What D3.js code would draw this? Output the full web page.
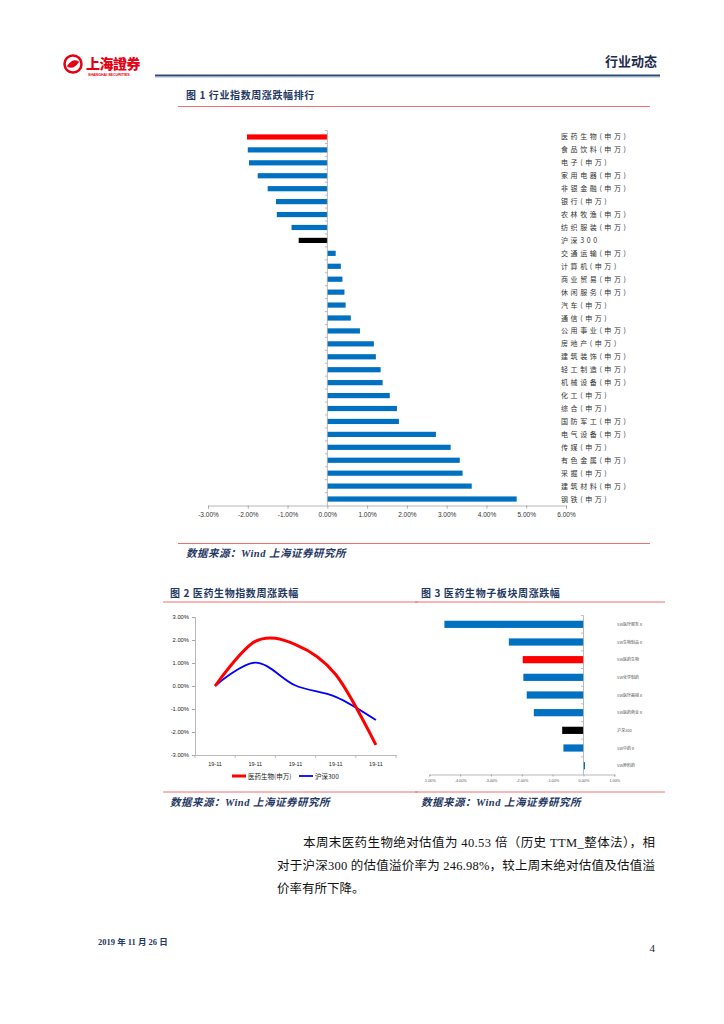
<!DOCTYPE html>
<html><head><meta charset="utf-8">
<script src="https://cdn.jsdelivr.net/npm/d3@7"></script>
<style>body{margin:0;background:#fff}svg{display:block}</style>
</head><body>
<script>
// ---------- DATA ----------
const industries = ["医药生物(申万)","食品饮料(申万)","电子(申万)","家用电器(申万)","非银金融(申万)","银行(申万)","农林牧渔(申万)","纺织服装(申万)","沪深300","交通运输(申万)","计算机(申万)","商业贸易(申万)","休闲服务(申万)","汽车(申万)","通信(申万)","公用事业(申万)","房地产(申万)","建筑装饰(申万)","轻工制造(申万)","机械设备(申万)","化工(申万)","综合(申万)","国防军工(申万)","电气设备(申万)","传媒(申万)","有色金属(申万)","采掘(申万)","建筑材料(申万)","钢铁(申万)"];
const industryChange = [-2.02,-2.00,-1.97,-1.75,-1.50,-1.29,-1.27,-0.90,-0.72,0.21,0.34,0.38,0.43,0.46,0.59,0.82,1.17,1.22,1.34,1.39,1.57,1.75,1.80,2.73,3.10,3.33,3.40,3.63,4.76];
const xTicks1 = [-3,-2,-1,0,1,2,3,4,5,6];

const dates2 = ["19-11a","19-11b","19-11c","19-11d","19-11e"];
const dateLabels2 = ["19-11","19-11","19-11","19-11","19-11"];
const pharmaLine = [0, 1.94, 1.80, 0.50, -2.56];
const hs300Line = [0, 1.02, 0.02, -0.47, -1.48];
const yTicks2 = [3,2,1,0,-1,-2,-3];
const seriesNames2 = ["医药生物(申万)","沪深300"];

const subSectors = ["SW医疗服务Ⅱ","SW生物制品Ⅱ","SW医药生物","SW化学制药","SW医疗器械Ⅱ","SW医药商业Ⅱ","沪深300","SW中药Ⅱ","SW原料药"];
const subChange = [-4.51,-2.42,-1.97,-1.95,-1.84,-1.61,-0.69,-0.65,0.05];
const xTicks3 = [-5,-4,-3,-2,-1,0,1];

// ---------- SETUP ----------
const W=724,H=1024;
const svg=d3.select("body").append("svg").attr("width",W).attr("height",H);
const NAVY="#1F3864", RED="#FF0000", BLUE="#0070C0", GRID="#A6A6A6", LINE_RED="#F07070";
const CJK="'Noto Sans CJK SC', sans-serif";
const SERIF="'Liberation Serif','Noto Sans CJK SC', serif";
const fmt=d=>d.toFixed(2)+"%";
function barColor(name){ if(name==="沪深300") return "#000"; if(name.indexOf("医药生物")>=0) return RED; return BLUE; }

// ---------- HEADER ----------
const logo=svg.append("g");
logo.append("circle").attr("cx",73).attr("cy",64).attr("r",8.5).attr("fill","none").attr("stroke","#E60012").attr("stroke-width",2.5);
logo.append("path").attr("d","M67,66 Q73,57 80,62 Q74,61 71,67 Z").attr("fill","#E60012");
logo.append("path").attr("d","M79,62 Q73,71 66,66 Q72,67 75,61 Z").attr("fill","#E60012");
logo.append("text").attr("x",86).attr("y",69).attr("font-family",CJK).attr("font-weight",900).attr("font-size",14).attr("fill","#E60012").attr("letter-spacing",-0.5).text("上海證券");
logo.append("text").attr("x",88).attr("y",76).attr("font-family","Arial, sans-serif").attr("font-weight",700).attr("font-size",3.6).attr("fill","#E60012").text("SHANGHAI SECURITIES");
svg.append("line").attr("x1",155).attr("x2",660).attr("y1",75.5).attr("y2",75.5).attr("stroke","#2E4A7A").attr("stroke-width",2.2);
svg.append("line").attr("x1",155).attr("x2",660).attr("y1",77.3).attr("y2",77.3).attr("stroke","#9DB0CC").attr("stroke-width",0.6);
svg.append("text").attr("x",657).attr("y",66).attr("text-anchor","end").attr("font-family",CJK).attr("font-weight",700).attr("font-size",13).attr("fill","#1F2D4D").text("行业动态");

function title(x,y,t){ svg.append("text").attr("x",x).attr("y",y).attr("font-family",CJK).attr("font-weight",700).attr("font-size",10).attr("letter-spacing",0.6).attr("fill",NAVY).text(t); }
function rule(x1,x2,y){ svg.append("line").attr("x1",x1).attr("x2",x2).attr("y1",y).attr("y2",y).attr("stroke",LINE_RED).attr("stroke-width",1); }
function source(x,y){ svg.append("text").attr("x",x).attr("y",y).attr("font-family","'Liberation Serif','Noto Sans CJK SC',serif").attr("font-style","italic").attr("font-weight",700).attr("font-size",10.5).attr("letter-spacing",0.5).attr("fill",NAVY).text("数据来源：Wind  上海证券研究所"); }

// ---------- CHART 1 ----------
title(186,99,"图 1 行业指数周涨跌幅排行");
rule(178,650,106.5);
const x1=d3.scaleLinear().domain([-3,6]).range([208,566]);
const y1=d3.scaleBand().domain(industries).range([130.5,505.5]).paddingInner(0.6).paddingOuter(0.3);
const g1=svg.append("g");
g1.selectAll("rect").data(industries).join("rect")
  .attr("x",(d,i)=>x1(Math.min(0,industryChange[i])))
  .attr("width",(d,i)=>Math.abs(x1(industryChange[i])-x1(0)))
  .attr("y",d=>y1(d)+y1.bandwidth()/2-2.6).attr("height",5.2)
  .attr("fill",d=>barColor(d));
const yb=d3.scaleLinear().domain([0,industries.length]).range([130.5,505.5]);
g1.append("line").attr("x1",x1(0)).attr("x2",x1(0)).attr("y1",130.5).attr("y2",505.5).attr("stroke",GRID).attr("stroke-width",0.8);
g1.selectAll(".vt").data(d3.range(industries.length)).join("line").attr("class","vt")
  .attr("x1",x1(0)-2.5).attr("x2",x1(0)).attr("y1",d=>yb(d)).attr("y2",d=>yb(d)).attr("stroke",GRID).attr("stroke-width",0.7);
const ax1=g1.append("g").attr("transform","translate(0,505.5)")
  .call(d3.axisBottom(x1).tickValues(xTicks1).tickFormat(fmt).tickSize(3).tickPadding(4));
ax1.select(".domain").attr("stroke",GRID).attr("stroke-width",0.8);
ax1.selectAll(".tick line").attr("stroke",GRID);
ax1.selectAll("text").attr("font-family","Arial, 'Liberation Sans', sans-serif").attr("font-size",6.5).attr("fill","#333");
g1.selectAll(".lab").data(industries).join("text").attr("class","lab")
  .attr("x",561).attr("y",d=>y1(d)+y1.bandwidth()/2+2.5)
  .attr("font-family",CJK).attr("font-size",7).attr("letter-spacing",2.6).attr("fill","#333").text(d=>d);
rule(178,650,543.5);
source(186,557);

// ---------- CHART 2 ----------
title(170,597,"图 2 医药生物指数周涨跌幅");
rule(163,418,602);
const x2=d3.scaleBand().domain(dates2).range([195,396]);
const y2=d3.scaleLinear().domain([-3,3]).range([755,617]);
const g2=svg.append("g");
const ay2=g2.append("g").attr("transform","translate(195,0)").call(d3.axisLeft(y2).tickValues(yTicks2).tickFormat(fmt).tickSize(3).tickPadding(3));
ay2.select(".domain").attr("stroke",GRID).attr("stroke-width",0.8);
ay2.selectAll(".tick line").attr("stroke",GRID);
ay2.selectAll("text").attr("font-family","Arial, 'Liberation Sans', sans-serif").attr("font-size",5.8).attr("fill","#222");
const ax2=g2.append("g").attr("transform","translate(0,755)").call(d3.axisBottom(x2).tickFormat((d,i)=>dateLabels2[i]).tickSize(0).tickPadding(7));
ax2.select(".domain").attr("stroke",GRID).attr("stroke-width",0.8);
ax2.selectAll("text").attr("font-family","Arial, 'Liberation Sans', sans-serif").attr("font-size",5.5).attr("fill","#222");
g2.selectAll(".bt").data(d3.range(dates2.length+1)).join("line").attr("class","bt")
  .attr("x1",d=>195+d*x2.step()).attr("x2",d=>195+d*x2.step()).attr("y1",755).attr("y2",758).attr("stroke",GRID).attr("stroke-width",0.7);
const line2=d3.line().x((d,i)=>x2(dates2[i])+x2.bandwidth()/2).y(d=>y2(d)).curve(d3.curveCardinal.tension(0));
g2.append("path").datum(hs300Line).attr("d",line2).attr("fill","none").attr("stroke","#0000FF").attr("stroke-width",1.8);
g2.append("path").datum(pharmaLine).attr("d",line2).attr("fill","none").attr("stroke",RED).attr("stroke-width",3);
const lg=g2.append("g");
lg.append("line").attr("x1",232).attr("x2",246).attr("y1",776).attr("y2",776).attr("stroke",RED).attr("stroke-width",3);
lg.append("text").attr("x",248).attr("y",778.5).attr("font-family",CJK).attr("font-size",6.5).attr("fill","#222").text(seriesNames2[0]);
lg.append("line").attr("x1",299).attr("x2",313).attr("y1",776).attr("y2",776).attr("stroke","#0000FF").attr("stroke-width",1.8);
lg.append("text").attr("x",315).attr("y",778.5).attr("font-family",CJK).attr("font-size",6.5).attr("fill","#222").text(seriesNames2[1]);
rule(163,418,792);
source(170,806);

// ---------- CHART 3 ----------
title(421,597,"图 3 医药生物子板块周涨跌幅");
rule(415,665,602);
const x3=d3.scaleLinear().domain([-5,1]).range([429.3,614.3]);
const y3=d3.scaleBand().domain(subSectors).range([615.5,774.5]).paddingInner(0.6).paddingOuter(0.3);
const g3=svg.append("g");
g3.selectAll("rect").data(subSectors).join("rect")
  .attr("x",(d,i)=>x3(Math.min(0,subChange[i])))
  .attr("width",(d,i)=>Math.abs(x3(subChange[i])-x3(0)))
  .attr("y",d=>y3(d)+y3.bandwidth()/2-3.6).attr("height",7.2)
  .attr("fill",d=>barColor(d));
const yb3=d3.scaleLinear().domain([0,subSectors.length]).range([615.5,774.5]);
g3.append("line").attr("x1",x3(0)).attr("x2",x3(0)).attr("y1",615.5).attr("y2",774.5).attr("stroke",GRID).attr("stroke-width",0.8);
g3.selectAll(".vt").data(d3.range(subSectors.length)).join("line").attr("class","vt")
  .attr("x1",x3(0)-2.5).attr("x2",x3(0)).attr("y1",d=>yb3(d)).attr("y2",d=>yb3(d)).attr("stroke",GRID).attr("stroke-width",0.7);
const ax3=g3.append("g").attr("transform","translate(0,774.5)")
  .call(d3.axisBottom(x3).tickValues(xTicks3).tickFormat(fmt).tickSize(2).tickPadding(3));
ax3.select(".domain").attr("stroke",GRID).attr("stroke-width",0.8);
ax3.selectAll(".tick line").attr("stroke",GRID);
ax3.selectAll("text").attr("font-family","Arial, 'Liberation Sans', sans-serif").attr("font-size",3.8).attr("fill","#555");
g3.selectAll(".lab").data(subSectors).join("text").attr("class","lab")
  .attr("x",617).attr("y",d=>y3(d)+y3.bandwidth()/2+1.5)
  .attr("font-family",CJK).attr("font-size",4).attr("fill","#555").text(d=>d);
rule(415,665,792);
source(421,806);

// ---------- BODY TEXT ----------
const body=[
  {x:303,y:847,w:352,t:"本周末医药生物绝对估值为 40.53 倍（历史 TTM_整体法），相"},
  {x:277,y:870,w:378,t:"对于沪深300 的估值溢价率为 246.98%，较上周末绝对估值及估值溢"},
  {x:277,y:893,w:null,t:"价率有所下降。"}
];
body.forEach(b=>{
  const t=svg.append("text").attr("x",b.x).attr("y",b.y).attr("font-family",SERIF).attr("font-size",12.5).attr("fill","#111").text(b.t);
  if(b.w) t.attr("textLength",b.w).attr("lengthAdjust","spacing");
});

// ---------- FOOTER ----------
svg.append("text").attr("x",98).attr("y",945).attr("font-family",SERIF).attr("font-weight",700).attr("font-size",8.5).attr("fill",NAVY).text("2019 年 11 月 26 日");
svg.append("text").attr("x",655).attr("y",952).attr("text-anchor","end").attr("font-family",SERIF).attr("font-size",11).attr("fill","#222").text("4");
</script>
</body></html>
